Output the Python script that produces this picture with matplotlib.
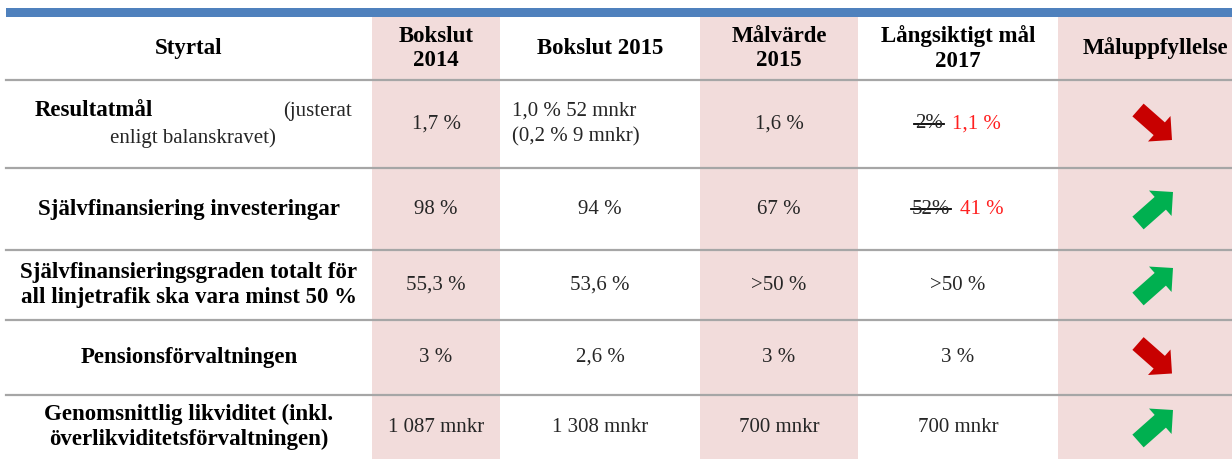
import matplotlib.pyplot as plt
from matplotlib.patches import Rectangle, FancyArrow

# Table content
headers = ['Styrtal', 'Bokslut\n2014', 'Bokslut 2015', 'Målvärde\n2015',
           'Långsiktigt mål\n2017', 'Måluppfyllelse']
styrtal = ['Resultatmål', 'Självfinansiering investeringar',
           'Självfinansieringsgraden totalt för\nall linjetrafik ska vara minst 50 %',
           'Pensionsförvaltningen',
           'Genomsnittlig likviditet (inkl.\növerlikviditetsförvaltningen)']
styrtal_note = '(justerat', 'enligt balanskravet)'
bokslut_2014 = ['1,7 %', '98 %', '55,3 %', '3 %', '1 087 mnkr']
bokslut_2015 = ['1,0 % 52 mnkr\n(0,2 % 9 mnkr)', '94 %', '53,6 %', '2,6 %', '1 308 mnkr']
malvarde_2015 = ['1,6 %', '67 %', '>50 %', '3 %', '700 mnkr']
langsiktigt_old = ['2%', '52%', '', '', '']
langsiktigt_new = ['1,1 %', '41 %', '>50 %', '3 %', '700 mnkr']
maluppfyllelse = ['down', 'up', 'up', 'down', 'up']

W, H = 1232, 459
col_edges = [6, 372, 500, 700, 858, 1058, 1232]
row_edges = [17, 80, 168, 250, 320, 395, 459]
pink_cols = [1, 3, 5]

PINK = '#F2DCDB'
BLUE = '#4F81BD'
GREY = '#A6A6A6'
FONT = 'Liberation Serif'

fig = plt.figure(figsize=(W / 100, H / 100), dpi=100)
ax = fig.add_axes([0, 0, 1, 1])
ax.set_xlim(0, W)
ax.set_ylim(H, 0)
ax.axis('off')

# pink columns
for c in pink_cols:
    ax.add_patch(Rectangle((col_edges[c], row_edges[0]), col_edges[c + 1] - col_edges[c],
                           H - row_edges[0], color=PINK, lw=0, zorder=0))

# blue top bar
ax.add_patch(Rectangle((col_edges[0], 8), W - col_edges[0], 9, color=BLUE, lw=0, zorder=1))

# row separators
for y in row_edges[1:-1]:
    ax.plot([col_edges[0], W], [y, y], color=GREY, lw=1.6, zorder=2)

def cx(c):
    return (col_edges[c] + col_edges[c + 1]) / 2

def cy(r):
    return (row_edges[r] + row_edges[r + 1]) / 2

txt = dict(family=FONT, fontsize=15, va='center', linespacing=1.5, color='#262626')
bold = dict(family=FONT, fontsize=16.5, va='center', linespacing=1.22, color='black',
            fontweight='bold')

# header
for c, h in enumerate(headers):
    if c == 5:
        ax.text(1083, cy(0), h, ha='left', **bold)
    else:
        ax.text(cx(c), cy(0), h, ha='center', **bold)

# body
for r in range(5):
    y = cy(r + 1)
    if r == 0:
        ax.text(35, y - 13, styrtal[r], ha='left', **bold)
        ax.text(352, y - 13, styrtal_note[0], ha='right', **txt)
        ax.text(193, y + 14, styrtal_note[1], ha='center', **txt)
    else:
        ax.text(cx(0), y, styrtal[r], ha='center', **bold)
    ax.text(cx(1), y, bokslut_2014[r], ha='center', **txt)
    if '\n' in bokslut_2015[r]:
        ax.text(512, y, bokslut_2015[r], ha='left', **txt)
    else:
        ax.text(cx(2), y, bokslut_2015[r], ha='center', **txt)
    ax.text(cx(3), y, malvarde_2015[r], ha='center', **txt)

fig.canvas.draw()
renderer = fig.canvas.get_renderer()

for r in range(5):
    y = cy(r + 1)
    if langsiktigt_old[r]:
        gap = 10
        t_old = ax.text(0, y, langsiktigt_old[r], ha='left', **txt)
        t_new = ax.text(0, y, langsiktigt_new[r], ha='left', **{**txt, 'color': '#FF2020'})
        w_old = t_old.get_window_extent(renderer).width
        w_new = t_new.get_window_extent(renderer).width
        x0 = cx(4) - (w_old + gap + w_new) / 2
        t_old.set_x(x0)
        t_new.set_x(x0 + w_old + gap)
        ax.plot([x0 - 1, x0 + w_old + 1], [y - 0.5, y - 0.5], color='black', lw=1.3)
    else:
        ax.text(cx(4), y, langsiktigt_new[r], ha='center', **txt)

    # arrows in the Måluppfyllelse column
    a_x = cx(5) - 7
    if maluppfyllelse[r] == 'up':
        ax.add_patch(FancyArrow(a_x, y + 14, 35, -31, width=17, head_width=34,
                                head_length=17, length_includes_head=True,
                                color='#00B050', lw=0, zorder=3))
    else:
        ax.add_patch(FancyArrow(a_x, y - 14, 34, 30, width=17, head_width=34,
                                head_length=17, length_includes_head=True,
                                color='#C80000', lw=0, zorder=3))

fig.savefig('out.png', dpi=100)
